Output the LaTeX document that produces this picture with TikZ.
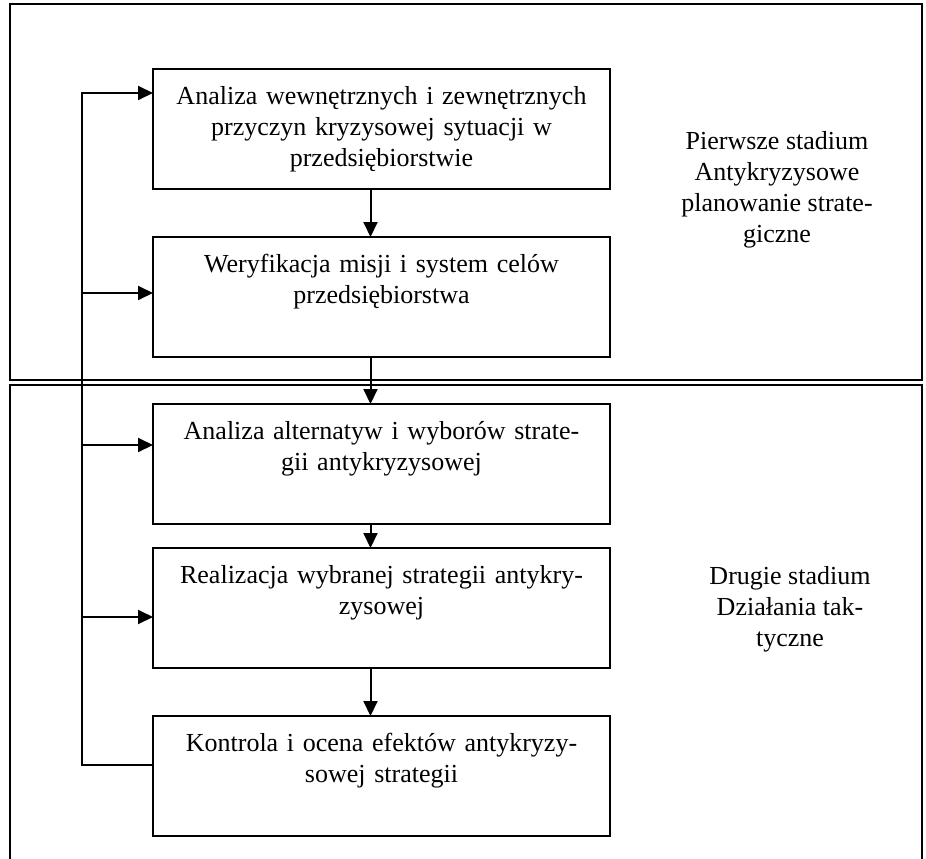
\documentclass[tikz,border=0pt]{standalone}
\usepackage{fontspec}
\setmainfont{Liberation Serif}
\usetikzlibrary{arrows.meta, positioning}

\begin{document}
\begin{tikzpicture}[x=1pt, y=-1pt, node distance=48pt, font=\fontsize{26}{31}\selectfont]

    % Define style for different elements
    \tikzstyle{stage} = [line width=2pt]
    \tikzstyle{process} = [rectangle, minimum width=457pt, text width=437pt, inner xsep=10pt, inner ysep=0pt, outer sep=0pt, text height=35pt, text depth=85pt, align=center, draw=black, line width=2pt]
    \tikzstyle{arrow} = [line width=2pt, -{Triangle[length=15pt, width=14pt]}]
    \tikzstyle{phase} = [align=center]

    \useasboundingbox (0,0) rectangle (926,859);

    % Frames of the two stages
    \draw [stage] (10,4) rectangle (922,380);
    \draw [stage] (10,859) -- (10,385) -- (922,385) -- (922,859);

    % Place nodes
    \node (step1) [process, anchor=north] at (381.5,69) {Analiza wewnętrznych i zewnętrznych\\przyczyn kryzysowej sytuacji w\\przedsiębiorstwie};
    \node (step2) [process, below=of step1] {Weryfikacja misji i system celów\\przedsiębiorstwa};
    \node (step3) [process, below=47pt of step2] {Analiza alternatyw i wyborów strate-\\gii antykryzysowej};
    \node (step4) [process, below=24pt of step3] {Realizacja wybranej strategii antykry-\\zysowej};
    \node (step5) [process, below=of step4] {Kontrola i ocena efektów antykryzy-\\sowej strategii};
    \node (phase1) [phase] at (777,190) {Pierwsze stadium\\Antykryzysowe\\planowanie strate-\\giczne};
    \node (phase2) [phase] at (790,609) {Drugie stadium\\Działania tak-\\tyczne};

    % Feedback line
    \coordinate (loop1) at (82,93);
    \coordinate (loop2) at (82,293);
    \coordinate (loop3) at (82,445);
    \coordinate (loop4) at (82,617);
    \coordinate (loop5) at (82,765);

    % Draw arrows
    \draw [arrow] ([xshift=-11pt]step1.south) -- ([xshift=-11pt]step2.north);
    \draw [arrow] ([xshift=-11pt]step2.south) -- ([xshift=-11pt]step3.north);
    \draw [arrow] ([xshift=-11pt]step3.south) -- ([xshift=-11pt]step4.north);
    \draw [arrow] ([xshift=-11pt]step4.south) -- ([xshift=-11pt]step5.north);
    \draw [arrow] (step5.west |- loop5) -- (loop5) -- (loop1) -- (loop1 -| step1.west);
    \draw [arrow] (loop2) -- (loop2 -| step2.west);
    \draw [arrow] (loop3) -- (loop3 -| step3.west);
    \draw [arrow] (loop4) -- (loop4 -| step4.west);

\end{tikzpicture}
\end{document}
